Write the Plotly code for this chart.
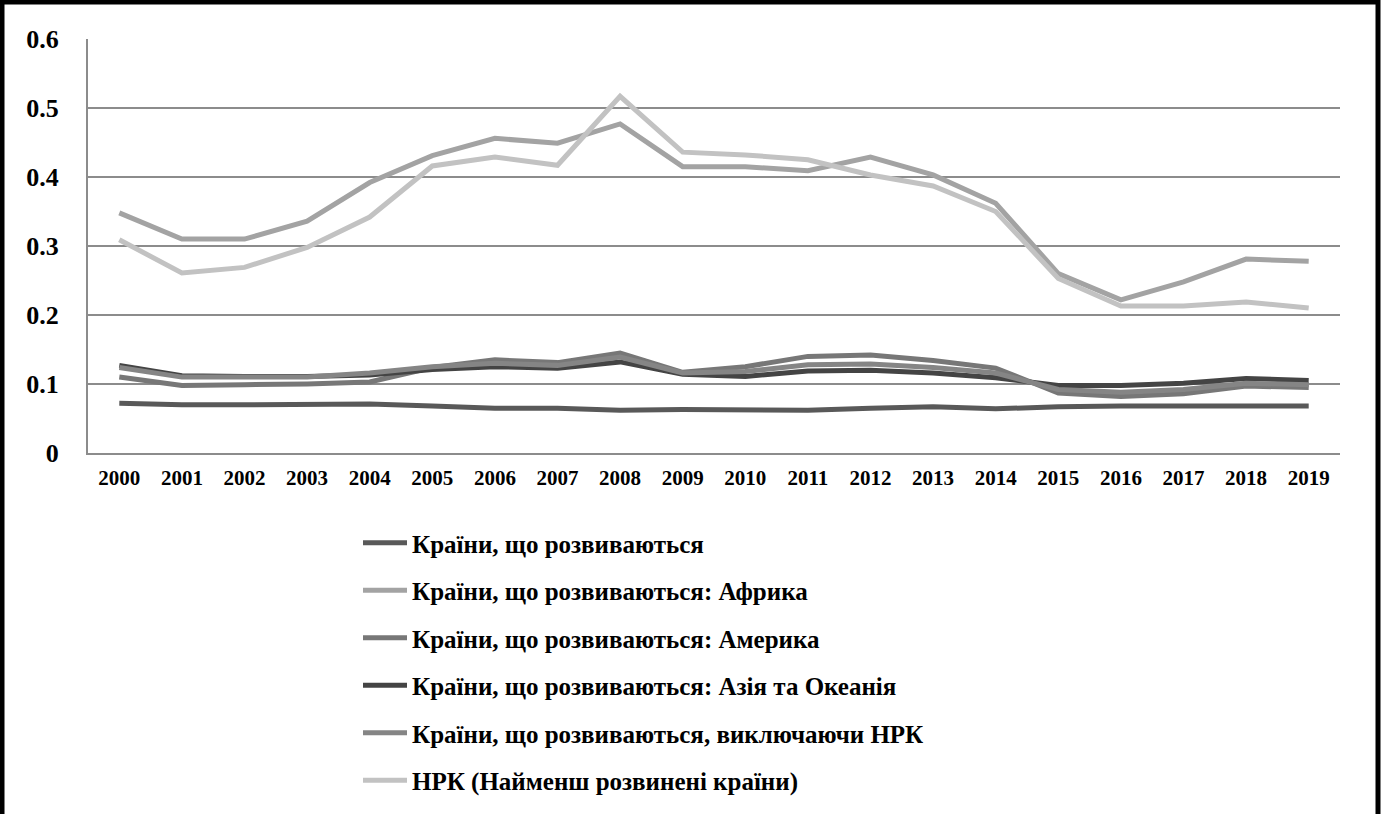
import plotly.graph_objects as go

years = [str(y) for y in range(2000, 2020)]

developing = [0.072, 0.070, 0.070, 0.070, 0.071, 0.068, 0.065, 0.065, 0.062, 0.063,
              0.063, 0.062, 0.065, 0.067, 0.064, 0.067, 0.068, 0.068, 0.068, 0.068]
africa = [0.348, 0.310, 0.310, 0.336, 0.392, 0.431, 0.456, 0.449, 0.477, 0.415,
          0.415, 0.409, 0.429, 0.403, 0.362, 0.260, 0.222, 0.248, 0.281, 0.278]
america = [0.110, 0.098, 0.099, 0.100, 0.103, 0.124, 0.135, 0.131, 0.145, 0.117,
           0.125, 0.140, 0.142, 0.134, 0.123, 0.087, 0.082, 0.086, 0.097, 0.095]
asia = [0.127, 0.112, 0.111, 0.111, 0.113, 0.121, 0.125, 0.123, 0.132, 0.114,
        0.111, 0.119, 0.120, 0.116, 0.109, 0.098, 0.098, 0.101, 0.108, 0.105]
excl_ldc = [0.124, 0.110, 0.110, 0.110, 0.116, 0.125, 0.130, 0.127, 0.139, 0.116,
            0.118, 0.128, 0.129, 0.124, 0.116, 0.092, 0.088, 0.092, 0.101, 0.099]
ldc = [0.309, 0.261, 0.269, 0.298, 0.342, 0.416, 0.429, 0.417, 0.517, 0.436,
       0.432, 0.425, 0.403, 0.387, 0.350, 0.253, 0.213, 0.213, 0.219, 0.210]

names = [
    "Країни, що розвиваються",
    "Країни, що розвиваються: Африка",
    "Країни, що розвиваються: Америка",
    "Країни, що розвиваються: Азія та Океанія",
    "Країни, що розвиваються, виключаючи НРК",
    "НРК (Найменш розвинені країни)",
]
series = [developing, africa, america, asia, excl_ldc, ldc]
colors = ["#595959", "#a3a3a3", "#777777", "#444444", "#858585", "#c2c2c2"]

fig = go.Figure()
for i, (nm, vals, col) in enumerate(zip(names, series, colors)):
    fig.add_trace(go.Scatter(
        x=years, y=vals, name=nm, mode="lines",
        line=dict(color=col, width=5),
        legendgroup=f"g{i}",
    ))

W, H = 1381, 814
L, R, T, B = 88, 41, 39, 361
pw, ph = W - L - R, H - T - B

fig.update_layout(
    width=W, height=H,
    margin=dict(l=L, r=R, t=T, b=B, autoexpand=False),
    paper_bgcolor="white", plot_bgcolor="white",
    font=dict(family="Liberation Serif", color="black", weight="bold"),
    showlegend=True,
    legend=dict(
        x=(358 - L) / pw, y=(453 - 520) / ph,
        xanchor="left", yanchor="top",
        font=dict(size=25, family="Liberation Serif", weight="bold"),
        tracegroupgap=12, itemwidth=44,
        bgcolor="rgba(0,0,0,0)",
    ),
    shapes=[dict(
        type="rect", xref="paper", yref="paper",
        x0=(2 - L) / pw, x1=(W - 3 - L) / pw,
        y0=(453 - (H + 10)) / ph, y1=(453 - 2) / ph,
        line=dict(color="black", width=5),
        fillcolor="rgba(0,0,0,0)", layer="above",
    )],
)
fig.update_xaxes(
    type="category", range=[-0.5, len(years) - 0.5],
    showgrid=False, showline=True, linecolor="#8c8c8c", linewidth=2,
    tickfont=dict(size=21, family="Liberation Serif", weight="bold"),
    ticks="", ticklabelstandoff=5,
)
fig.update_yaxes(
    range=[0, 0.6], dtick=0.1, showgrid=True, gridcolor="#8c8c8c", gridwidth=2,
    showline=True, linecolor="#8c8c8c", linewidth=2, zeroline=False,
    tickfont=dict(size=26, family="Liberation Serif", weight="bold"),
    ticks="", ticklabelstandoff=22,
)

fig.write_html(
    "out.html",
    config={"displayModeBar": False},
    post_script="document.body.style.margin='0';document.body.style.overflow='hidden';",
)
